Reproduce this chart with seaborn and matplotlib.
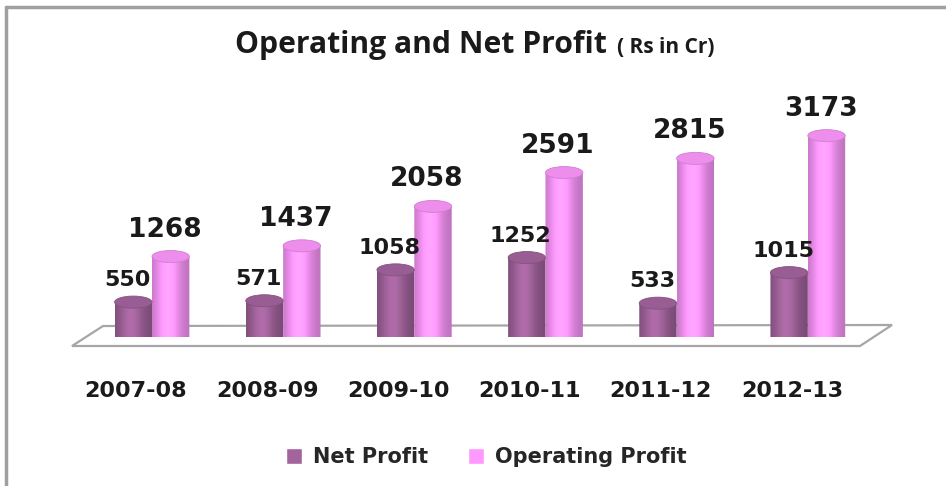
import numpy as np
import pandas as pd
import seaborn as sns
import matplotlib.pyplot as plt
import matplotlib.transforms as mtransforms
from matplotlib.patches import Ellipse, Polygon
from matplotlib.lines import Line2D
from matplotlib.colors import to_rgb

# data (Rs in Cr)
years = ['2007-08', '2008-09', '2009-10', '2010-11', '2011-12', '2012-13']
net_profit = [550, 571, 1058, 1252, 533, 1015]
operating_profit = [1268, 1437, 2058, 2591, 2815, 3173]
series_names = ['Net Profit', 'Operating Profit']
colors = ['#A3649D', '#FF99FF']

df = pd.DataFrame({
    'year': years + years,
    'value': net_profit + operating_profit,
    'series': [series_names[0]] * len(years) + [series_names[1]] * len(years),
})

sns.set_theme(style='white')
plt.rcParams['font.family'] = ['DejaVu Sans']

fig = plt.figure(figsize=(9.46, 4.86), dpi=100)
ax = fig.add_axes([86.4 / 946, 149 / 486, 787 / 946, 257 / 486])

sns.barplot(data=df, x='year', y='value', hue='series', palette=colors,
            width=0.57, saturation=1, ax=ax)
ax.set_xlim(-0.5, 5.5)
ax.set_ylim(0, 4050)

# legend at the bottom of the figure
handles, labels = ax.get_legend_handles_labels()
ax.get_legend().remove()
fig.legend(handles, labels, loc='center', bbox_to_anchor=(486 / 946, 1 - 457 / 486),
           ncol=2, frameon=False, prop={'weight': 'bold', 'size': 15},
           handlelength=0.8, handleheight=0.8, handletextpad=0.5, columnspacing=1.9)

# cylinder look: shaded body + elliptical caps
ell_h = 190  # ellipse height in data units (~12 px)
t = np.linspace(0, 1, 80)
shade = 0.74 + 0.34 * np.exp(-((t - 0.42) / 0.32) ** 2)
for cont, col, lab_dy in zip(ax.containers, colors, [16, 20]):
    rgb = np.array(to_rgb(col))
    img = np.clip(rgb[None, None, :] * shade[None, :, None], 0, 1)
    for bar in cont:
        x0, w, h = bar.get_x(), bar.get_width(), bar.get_height()
        cx = x0 + w / 2
        bar.set_alpha(0)
        th = np.linspace(np.pi, 2 * np.pi, 40)
        verts = np.column_stack([cx + w / 2 * np.cos(th), ell_h / 2 * np.sin(th)])
        verts = np.vstack([verts, [[x0 + w, h], [x0, h]]])
        clip = Polygon(verts, closed=True, transform=ax.transData)
        im = ax.imshow(img, extent=[x0, x0 + w, -ell_h / 2, h], aspect='auto',
                       interpolation='bilinear', zorder=3)
        im.set_clip_path(clip)
        im.set_clip_on(True)
        ax.add_patch(Ellipse((cx, h), w, ell_h, facecolor=rgb * 0.93,
                             edgecolor=rgb * 0.82, lw=0.6, zorder=4, clip_on=False))
        ax.annotate(f'{int(round(h))}', xy=(cx, h), xytext=(-6, lab_dy),
                    textcoords='offset pixels', ha='center', va='baseline',
                    fontsize=16 if lab_dy == 16 else 19, fontweight='bold',
                    color='#1a1a1a', zorder=5)

ax.set_xlim(-0.5, 5.5)
ax.set_ylim(0, 4050)

# floor plate
floor_px = [(72, 346), (103, 326), (892, 325), (860, 346)]
floor = Polygon([(x / 946, 1 - y / 486) for x, y in floor_px], closed=True,
                transform=fig.transFigure, facecolor='white', edgecolor='#A6A6A6',
                lw=1.6, zorder=1, clip_on=False)
ax.add_patch(floor)

# axes cosmetics
sns.despine(ax=ax, left=True, bottom=True)
ax.set_yticks([])
ax.set_xlabel('')
ax.set_ylabel('')
ax.tick_params(axis='x', length=0, pad=32)
for lab in ax.get_xticklabels():
    lab.set_fontweight('bold')
    lab.set_fontsize(16)
    lab.set_color('#1a1a1a')
    lab.set_transform(lab.get_transform() +
                      mtransforms.ScaledTranslation(-0.16, 0, fig.dpi_scale_trans))

# title: main part and a smaller unit note right after it
title = fig.text(235 / 946, 1 - 53 / 486, 'Operating and Net Profit', fontsize=21.7,
                 fontweight='bold', family=['Open Sans', 'DejaVu Sans'], color='#1a1a1a',
                 ha='left', va='baseline')
fig.canvas.draw()
end_x = title.get_window_extent().x1
fig.text((end_x + 10) / 946, 1 - 53 / 486, '( Rs in Cr)', fontsize=15,
         fontweight='bold', family=['Open Sans', 'DejaVu Sans'], color='#1a1a1a',
         ha='left', va='baseline')

# outer frame (left and top edges visible)
fig.add_artist(Line2D([6 / 946, 6 / 946], [0, 1 - 7 / 486], color='#A0A0A0', lw=2.5))
fig.add_artist(Line2D([6 / 946, 1], [1 - 7 / 486, 1 - 7 / 486], color='#A0A0A0', lw=2.5))

fig.savefig('out.png', dpi=100)
